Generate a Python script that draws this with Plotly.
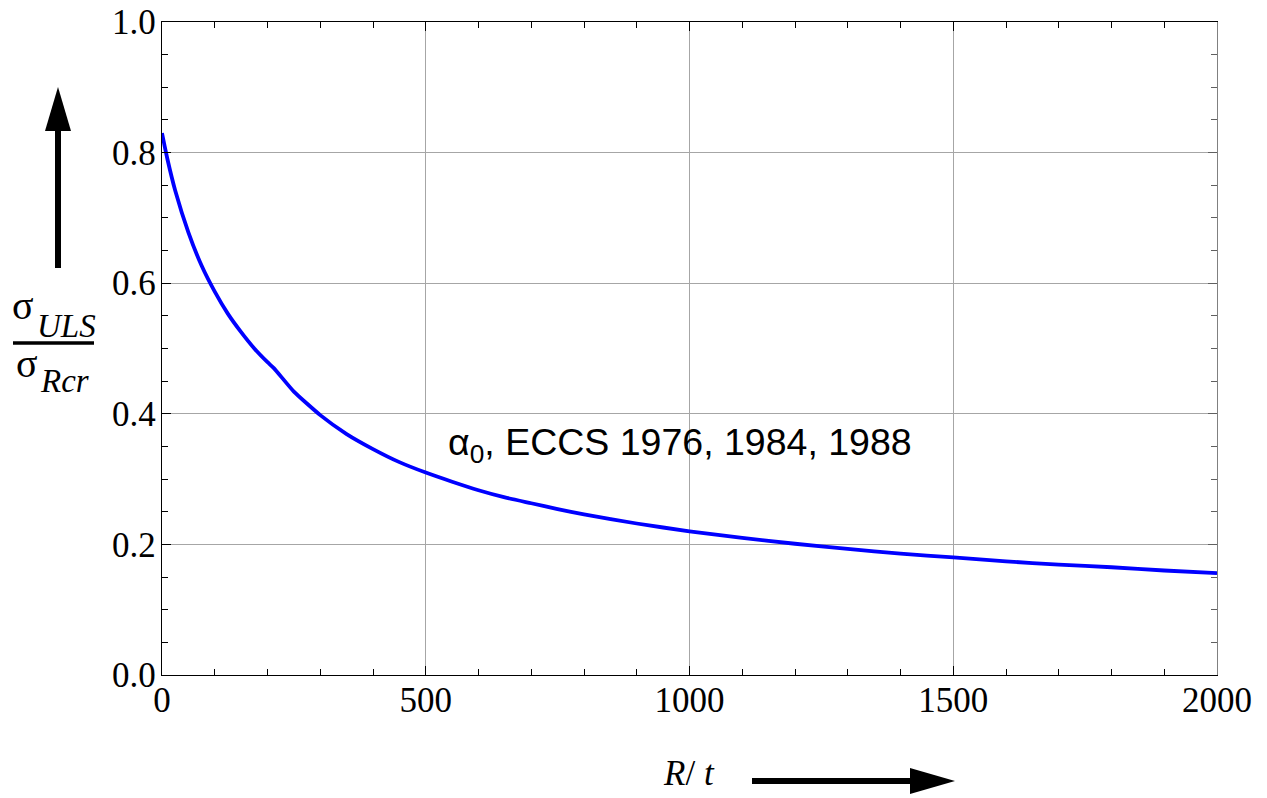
import plotly.graph_objects as go

r_over_t = [0, 5, 10, 25, 50, 75, 100, 125, 150, 175, 200, 212, 250, 300, 350, 400, 450,
            500, 550, 600, 650, 700, 750, 800, 900, 1000, 1100, 1200, 1300, 1400, 1500,
            1600, 1700, 1800, 1900, 2000]
sigma_ratio = [0.830, 0.810, 0.791, 0.742, 0.678, 0.627, 0.587, 0.553, 0.525, 0.500, 0.479,
               0.470, 0.434, 0.398, 0.369, 0.346, 0.326, 0.310, 0.296, 0.283, 0.272, 0.263,
               0.254, 0.246, 0.232, 0.220, 0.210, 0.201, 0.193, 0.186, 0.180, 0.174, 0.169,
               0.165, 0.160, 0.156]
x_ticks = [0, 500, 1000, 1500, 2000]
y_ticks = [0.0, 0.2, 0.4, 0.6, 0.8, 1.0]
curve_label = "α<sub>0</sub>, ECCS 1976, 1984, 1988"

W, H = 1267, 798
L, R, T, B = 162, 50, 22, 123
pw, ph = W - L - R, H - T - B

def px(x):
    return (x - L) / pw

def py(y):
    return (H - B - y) / ph

serif = "Liberation Serif, Times New Roman, serif"
sans = "Liberation Sans, Arial, sans-serif"

fig = go.Figure()
fig.add_trace(go.Scatter(x=r_over_t, y=sigma_ratio, mode="lines",
                         line=dict(color="#0000ff", width=3.8, shape="spline", smoothing=0.5),
                         showlegend=False, hoverinfo="skip"))

common = dict(showline=True, linecolor="black", linewidth=1.3, ticks="inside",
              tickcolor="black", ticklen=9, showgrid=True, gridcolor="#a6a6a6", gridwidth=1,
              zeroline=False, automargin=False,
              tickfont=dict(family=serif, size=35, color="black"))

fig.update_layout(
    width=W, height=H, margin=dict(l=L, r=R, t=T, b=B, autoexpand=False),
    plot_bgcolor="white", paper_bgcolor="white",
    xaxis=dict(range=[0, 2000], tickvals=x_ticks, ticktext=[str(v) for v in x_ticks],
               minor=dict(dtick=100, ticks="inside", ticklen=6, tickcolor="black", showgrid=False),
               ticklabelstandoff=-6, **common),
    yaxis=dict(range=[0, 1.0], tickvals=y_ticks, ticktext=[f"{v:.1f}" for v in y_ticks],
               minor=dict(dtick=0.05, ticks="inside", ticklen=6, tickcolor="black", showgrid=False),
               ticklabelstandoff=-2, **common),
    xaxis2=dict(range=[0, 2000], overlaying="x", side="top", showline=True, linecolor="black",
                linewidth=1.3, ticks="inside", ticklen=9, tickcolor="black", dtick=500,
                showticklabels=False, showgrid=False, zeroline=False, automargin=False,
                minor=dict(dtick=100, ticks="inside", ticklen=6, tickcolor="black")),
    yaxis2=dict(range=[0, 1.0], overlaying="y", side="right", showline=True, linecolor="#808080",
                linewidth=1.3, ticks="inside", ticklen=9, tickcolor="#606060", dtick=0.2,
                showticklabels=False, showgrid=False, zeroline=False, automargin=False,
                minor=dict(dtick=0.05, ticks="inside", ticklen=6, tickcolor="#606060")),
)
# invisible trace to anchor the mirror axes
fig.add_trace(go.Scatter(x=[None], y=[None], xaxis="x2", yaxis="y2", showlegend=False))

# curve label
fig.add_annotation(x=px(446), y=py(445), xref="paper", yref="paper", text=curve_label,
                   showarrow=False, xanchor="left", yanchor="middle",
                   font=dict(family=sans, size=37.5, color="black"))

# y-axis label as fraction (full-size subscripts as in the reference)
def txt(x, y, s, size, anchor="left"):
    fig.add_annotation(x=px(x), y=py(y), xref="paper", yref="paper", text=s, showarrow=False,
                       xanchor=anchor, yanchor="middle",
                       font=dict(family=serif, size=size, color="black"))

txt(23, 306, "σ", 40, "center")
txt(35, 326, "<i>ULS</i>", 33)
txt(27, 364, "σ", 40, "center")
txt(38, 381, "<i>Rcr</i>", 33)
fig.add_shape(type="line", xref="paper", yref="paper", x0=px(13), x1=px(94), y0=py(343), y1=py(343),
              line=dict(color="black", width=3.5))

# x-axis label
txt(689, 773, "<i>R</i>/ <i>t</i>", 35, "center")

# vertical arrow
fig.add_shape(type="line", xref="paper", yref="paper", x0=px(58), x1=px(58), y0=py(268), y1=py(128),
              line=dict(color="black", width=6))
fig.add_shape(type="path", xref="paper", yref="paper",
              path=f"M {px(45)} {py(131)} L {px(71)} {py(131)} L {px(58)} {py(87)} Z",
              fillcolor="black", line=dict(color="black", width=0))
# horizontal arrow
fig.add_shape(type="line", xref="paper", yref="paper", x0=px(752), x1=px(914), y0=py(781), y1=py(781),
              line=dict(color="black", width=6))
fig.add_shape(type="path", xref="paper", yref="paper",
              path=f"M {px(910)} {py(768)} L {px(910)} {py(794)} L {px(955)} {py(781)} Z",
              fillcolor="black", line=dict(color="black", width=0))

fig.write_html("out.html")
